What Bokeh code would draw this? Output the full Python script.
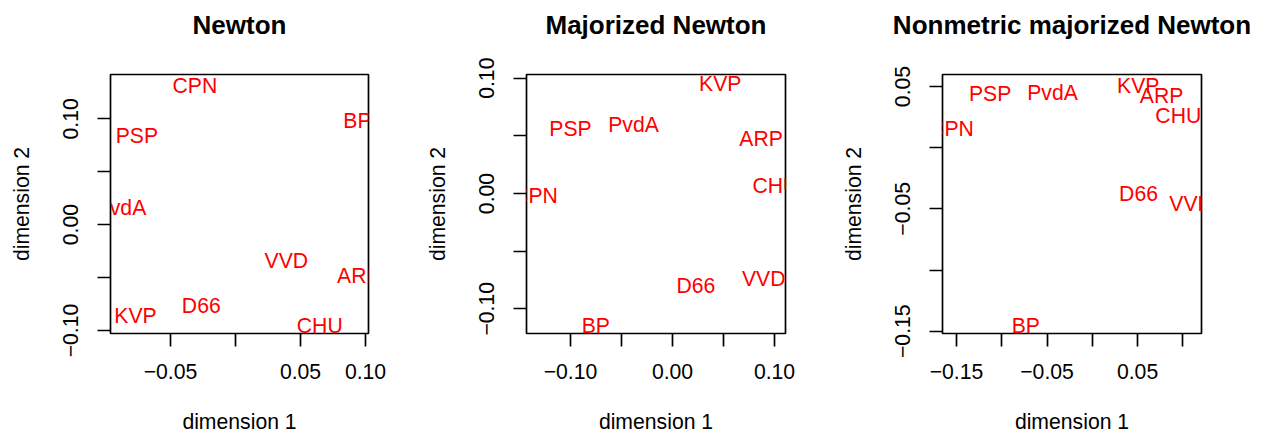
from bokeh.plotting import figure
from bokeh.layouts import row
from bokeh.models import Range1d, FixedTicker, CustomJSTickFormatter, ColumnDataSource
from bokeh.core.properties import value
from bokeh.embed import file_html
from bokeh.resources import INLINE

parties = ["CPN", "BP", "PSP", "PvdA", "VVD", "ARP", "D66", "KVP", "CHU"]

# Newton solution
newton_x = [-0.0312, 0.0938, -0.0759, -0.0881, 0.0391, 0.0949, -0.0263, -0.0769, 0.0648]
newton_y = [0.1316, 0.0984, 0.0842, 0.0165, -0.0339, -0.0480, -0.0764, -0.0858, -0.0953]

# Majorized Newton solution
major_x = [-0.1343, -0.0752, -0.1000, -0.0382, 0.0894, 0.0868, 0.0230, 0.0468, 0.1009]
major_y = [-0.0017, -0.1145, 0.0561, 0.0598, -0.0740, 0.0474, -0.0798, 0.0951, 0.0069]

# Nonmetric majorized Newton solution
nonmet_x = [-0.1555, -0.0734, -0.1128, -0.0439, 0.1091, 0.0765, 0.0511, 0.0508, 0.0950]
nonmet_y = [0.0154, -0.1453, 0.0440, 0.0453, -0.0459, 0.0426, -0.0377, 0.0508, 0.0263]

titles = ["Newton", "Majorized Newton", "Nonmetric majorized Newton"]

# ticks and which tick labels are shown
ticks_x1 = [-0.05, 0.00, 0.05, 0.10]
labels_x1 = ["\u22120.05", "", "0.05", "0.10"]
ticks_y1 = [-0.10, -0.05, 0.00, 0.05, 0.10]
labels_y1 = ["\u22120.10", "", "0.00", "", "0.10"]

ticks_x2 = [-0.10, -0.05, 0.00, 0.05, 0.10]
labels_x2 = ["\u22120.10", "", "0.00", "", "0.10"]
ticks_y2 = [-0.10, -0.05, 0.00, 0.05, 0.10]
labels_y2 = ["\u22120.10", "", "0.00", "", "0.10"]

ticks_x3 = [-0.15, -0.10, -0.05, 0.00, 0.05, 0.10]
labels_x3 = ["\u22120.15", "", "\u22120.05", "", "0.05", ""]
ticks_y3 = [-0.15, -0.10, -0.05, 0.00, 0.05]
labels_y3 = ["\u22120.15", "", "\u22120.05", "", "0.05"]

FONT = "Liberation Sans"
FS = "21.2px"
FRAME_H = 259


def fmt(ticks, labels):
    return CustomJSTickFormatter(args=dict(t=ticks, l=labels), code="""
        for (let i = 0; i < t.length; i++) {
            if (Math.abs(t[i] - tick) < 1e-9) return l[i];
        }
        return '';
    """)


def panel(title, xs, ys, xr, yr, tx, lx, ty, ly, bl, br, fw):
    p = figure(frame_width=fw, frame_height=FRAME_H,
               x_range=Range1d(*xr), y_range=Range1d(*yr),
               output_backend="svg", toolbar_location=None,
               min_border_left=bl, min_border_right=br,
               min_border_top=74, min_border_bottom=101,
               background_fill_color="white", border_fill_color="white")
    p.grid.visible = False
    p.outline_line_color = "black"
    p.outline_line_width = 1.7
    p.outline_line_alpha = 1.0

    # a blank second line keeps the title well above the frame, as in R
    p.title.text = title + "\n"
    p.title.align = "center"
    p.title.vertical_align = "bottom"
    p.title.text_font = FONT
    p.title.text_font_size = "26px"
    p.title.text_font_style = "bold"
    p.title.text_color = "black"
    p.title.standoff = 10

    for ax, t, l, lab in ((p.xaxis[0], tx, lx, "dimension 1"), (p.yaxis[0], ty, ly, "dimension 2")):
        ax.ticker = FixedTicker(ticks=t, minor_ticks=[])
        ax.formatter = fmt(t, l)
        ax.axis_line_color = None
        ax.major_tick_line_color = "black"
        ax.major_tick_line_width = 1.7
        ax.major_tick_in = 0
        ax.major_tick_out = 13
        ax.minor_tick_line_color = None
        ax.major_label_text_font = FONT
        ax.major_label_text_font_size = FS
        ax.major_label_text_color = "black"
        ax.axis_label = lab
        ax.axis_label_text_font = FONT
        ax.axis_label_text_font_size = FS
        ax.axis_label_text_font_style = "normal"
        ax.axis_label_text_color = "black"
    p.xaxis.major_label_standoff = 17
    p.xaxis.axis_label_standoff = 28
    p.yaxis.major_label_orientation = "vertical"
    p.yaxis.major_label_standoff = 19
    p.yaxis.axis_label_standoff = 28

    src = ColumnDataSource(dict(x=xs, y=ys, name=parties))
    p.text(x="x", y="y", text="name", source=src, text_color="red",
           text_font=value(FONT), text_font_size=FS,
           text_align="center", text_baseline="middle")
    return p


p1 = panel(titles[0], newton_x, newton_y, (-0.09615, 0.10231), (-0.10283, 0.14185),
           ticks_x1, labels_x1, ticks_y1, labels_y1, 110, 52, 258)
p2 = panel(titles[1], major_x, major_y, (-0.14314, 0.11078), (-0.12142, 0.10321),
           ticks_x2, labels_x2, ticks_y2, labels_y2, 106, 51, 259)
p3 = panel(titles[2], nonmet_x, nonmet_y, (-0.16547, 0.12065), (-0.15188, 0.05981),
           ticks_x3, labels_x3, ticks_y3, labels_y3, 106, 64, 259)

layout = row(p1, p2, p3, spacing=0)
open("out.html", "w").write(file_html(layout, INLINE))
